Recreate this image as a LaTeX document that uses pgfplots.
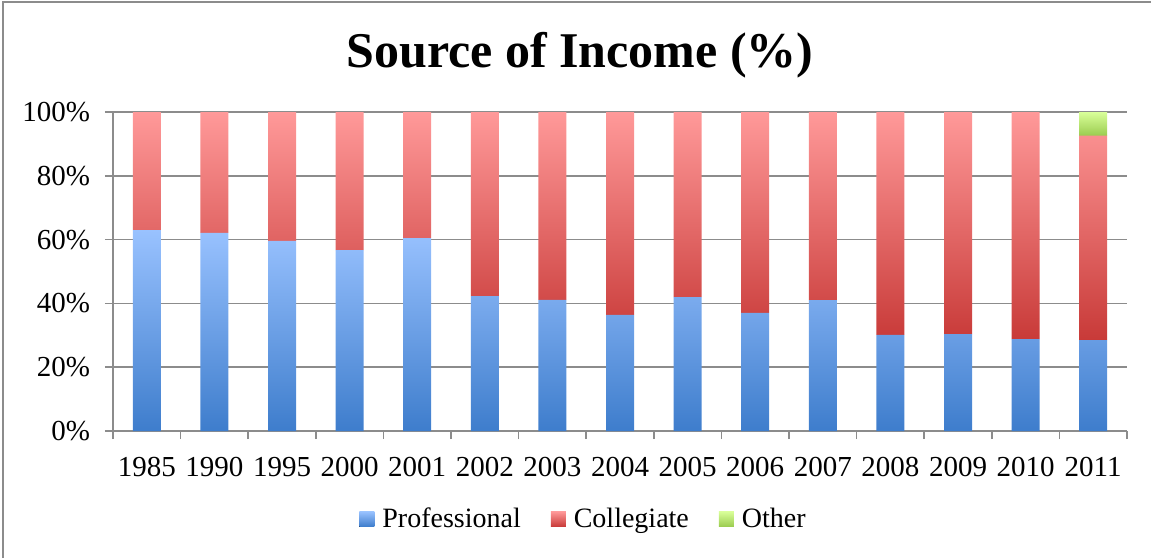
\documentclass[border=0pt]{standalone}
\usepackage{pgfplots}
\pgfplotsset{compat=1.18}
\usepackage{fontspec}
\setmainfont{Liberation Serif}
\definecolor{blueD}{RGB}{62,125,204}
\definecolor{blueL}{RGB}{153,194,255}
\definecolor{redD}{RGB}{200,58,56}
\definecolor{redL}{RGB}{255,153,153}
\definecolor{greenD}{RGB}{155,204,80}
\definecolor{greenL}{RGB}{217,255,153}
\definecolor{gridc}{RGB}{140,140,140}
\begin{document}
\begin{tikzpicture}
\path[use as bounding box] (0pt,0pt) rectangle (575.5pt,279pt);
\draw[gridc, line width=1.2pt] (1.5pt,0pt) -- (1.5pt,278pt) -- (575.5pt,278pt);
\node[anchor=base, font=\bfseries\fontsize{25}{28}\selectfont] at (290pt,245pt) {Source of Income (\%)};
\begin{axis}[
  at={(56.5pt,63.5pt)}, anchor=south west, scale only axis,
  width=507pt, height=159.5pt,
  ybar stacked, bar width=14pt,
  ymin=0, ymax=100, xmin=-0.5, xmax=14.5,
  xtick={0,...,14},
  xticklabels={1985,1990,1995,2000,2001,2002,2003,2004,2005,2006,2007,2008,2009,2010,2011},
  minor xtick={-0.5,0.5,...,14.5},
  major x tick style={draw=none},
  minor x tick style={gridc, line width=0.75pt},
  y tick style={gridc, line width=0.75pt},
  major tick length=4pt, minor tick length=4pt,
  tick align=outside,
  ytick={0,20,...,100},
  yticklabel={\pgfmathprintnumber{\tick}\%},
  /pgf/number format/assume math mode=true,
  tick label style={font=\fontsize{14.5}{16}\selectfont},
  xticklabel style={anchor=north, text height=10pt, text depth=0pt, yshift=-5pt},
  yticklabel style={xshift=-4pt},
  axis x line*=bottom, axis y line*=left,
  axis line style={gridc, line width=0.75pt},
  ymajorgrids, grid style={gridc, line width=0.75pt},
  legend style={at={(0.465,-0.276)}, anchor=center, draw=none, fill=none,
    legend columns=3, font=\fontsize{14}{16}\selectfont,
    /tikz/every odd column/.append style={column sep=2pt},
    /tikz/every even column/.append style={column sep=13pt}},
  legend image code/.code={\fill[#1] (0pt,-3.75pt) rectangle (7.5pt,3.75pt);},
]
\addplot[draw=none, top color=blueL, bottom color=blueD] coordinates {
(0,63.0) (1,62.1) (2,59.6) (3,56.7) (4,60.5) (5,42.3) (6,41.1) (7,36.4)
(8,42.0) (9,37.0) (10,41.0) (11,30.1) (12,30.4) (13,28.8) (14,28.5)};
\addplot[draw=none, top color=redL, bottom color=redD] coordinates {
(0,37.0) (1,37.9) (2,40.4) (3,43.3) (4,39.5) (5,57.7) (6,58.9) (7,63.6)
(8,58.0) (9,63.0) (10,59.0) (11,69.9) (12,69.6) (13,71.2) (14,64.1)};
\addplot[draw=none, top color=greenL, bottom color=greenD] coordinates {
(0,0) (1,0) (2,0) (3,0) (4,0) (5,0) (6,0) (7,0)
(8,0) (9,0) (10,0) (11,0) (12,0) (13,0) (14,7.4)};
\legend{Professional,Collegiate,Other}
\end{axis}
\end{tikzpicture}
\end{document}
